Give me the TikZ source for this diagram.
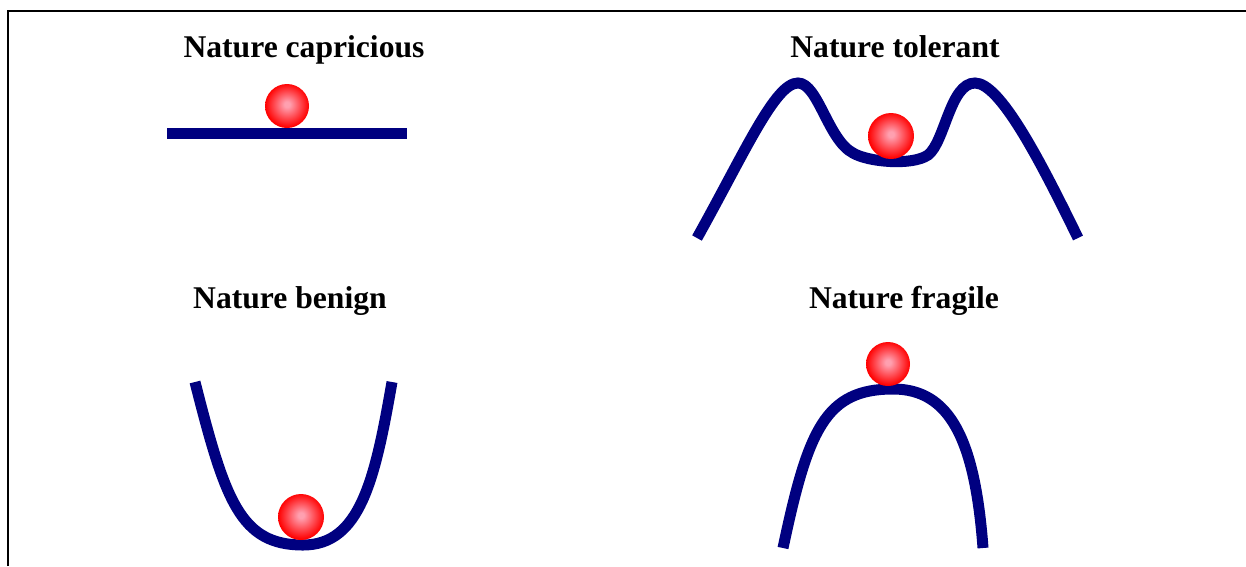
\documentclass[tikz,border=0pt]{standalone}
\usepackage{fontspec}
\setmainfont{Liberation Serif}
\usepackage{xcolor}
\usepackage{tikz}
\definecolor{natnavy}{HTML}{000080}
\definecolor{natred}{HTML}{FF0000}
\definecolor{natpink}{HTML}{FFA0B0}
\pgfdeclareradialshading{natball}{\pgfpoint{0bp}{2bp}}{%
  color(0bp)=(natpink); color(3bp)=(natpink); color(25bp)=(natred); color(50bp)=(natred)}

\begin{document}
\begin{tikzpicture}[x=0.02cm, y=-0.02cm,
  landscape/.style={natnavy, line width=0.22cm},
  title/.style={font=\fontsize{18}{20}\selectfont\bfseries, anchor=base, inner sep=0pt},
  ball/.style={shading=natball}]
  \useasboundingbox (0,0) rectangle (1246,566);

  % Frame
  \draw[line width=0.04cm] (8,566) -- (8,11) -- (1246,11);

  % Nature capricious
  \node[title] (capricious) at (304,57) {Nature capricious};
  \fill[natnavy] (167,128) rectangle (407,139);
  \shade[ball] (287,106) circle (22);

  % Nature tolerant
  \node[title] (tolerant) at (895,57) {Nature tolerant};
  \draw[landscape] (697,238) .. controls (745,152) and (775,83) .. (798,83)
    .. controls (818,83) and (828,140) .. (853,153)
    .. controls (868,162) and (912,166) .. (928,155)
    .. controls (945,142) and (950,83) .. (975,83)
    .. controls (1000,83) and (1040,160) .. (1078,238);
  \shade[ball] (891,136) circle (23);

  % Nature benign
  \node[title] (benign) at (290,308) {Nature benign};
  \draw[landscape] (195,382) .. controls (225,500) and (240,545) .. (303,545)
    .. controls (360,545) and (375,480) .. (392,382);
  \shade[ball] (301,517) circle (23);

  % Nature fragile
  \node[title] (fragile) at (904,308) {Nature fragile};
  \draw[landscape] (783,548) .. controls (808,430) and (825,389) .. (893,389)
    .. controls (950,389) and (975,440) .. (983,548);
  \shade[ball] (888,364) circle (22);
\end{tikzpicture}
\end{document}
